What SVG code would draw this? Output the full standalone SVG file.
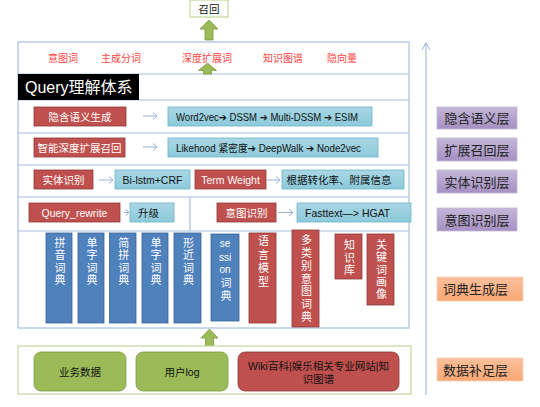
<svg xmlns="http://www.w3.org/2000/svg" width="540" height="407" viewBox="0 0 540 407">
<defs>
<linearGradient id="gPurple" x1="0" y1="0" x2="0" y2="1"><stop offset="0" stop-color="#c4b6d8"/><stop offset="1" stop-color="#a590c2"/></linearGradient>
<linearGradient id="gOrange" x1="0" y1="0" x2="0" y2="1"><stop offset="0" stop-color="#fcc19c"/><stop offset="1" stop-color="#f9a774"/></linearGradient>
<linearGradient id="gCyan" x1="0" y1="0" x2="0" y2="1"><stop offset="0" stop-color="#a9d7e4"/><stop offset="1" stop-color="#8ccadb"/></linearGradient>
<marker id="openArrow" markerWidth="10" markerHeight="10" refX="8" refY="5" orient="auto" markerUnits="userSpaceOnUse"><path d="M1,1 L8,5 L1,9" fill="none" stroke="#95b3d7" stroke-width="1"/></marker>
</defs>
<style>
text{font-family:"Liberation Sans","Noto Sans CJK SC","DejaVu Sans",sans-serif;}
.frame{fill:#fff;stroke:#a7bfe0;stroke-width:1.2;}
.div{stroke:#a7bfe0;stroke-width:1.2;}
.red{fill:#c0504d;stroke:#8c3a38;stroke-width:0.8;}
.cyan{fill:url(#gCyan);stroke:#6fb3c8;stroke-width:0.8;}
.bar{fill:#4f81bd;stroke:#3a6494;stroke-width:0.8;}
.green{fill:#9bbb59;stroke:#7a9a3e;stroke-width:0.8;}
.purple{fill:url(#gPurple);stroke:#c5b8d8;stroke-width:0.8;}
.orange{fill:url(#gOrange);stroke:#fbd0b4;stroke-width:0.8;}
.wt{fill:#fff;font-size:10.5px;}
.bt{fill:#111;font-size:10.5px;}
.top{fill:#ff4444;font-size:10px;font-family:"Liberation Serif","Noto Sans CJK SC",serif;}
.side{fill:#222;font-size:13px;}
.vt{fill:#fff;font-size:11px;writing-mode:vertical-rl;}
.vl{fill:#fff;font-size:10px;}
.conn{stroke:#95b3d7;stroke-width:1;fill:none;}
</style>

<g id="recall">
<rect x="190" y="0" width="38" height="17" fill="#fff" stroke="#b5cf84" stroke-width="1"/>
<text x="209" y="12.5" text-anchor="middle" class="bt" font-size="11">召回</text>
</g>

<g id="main-frame">
<rect x="18" y="42" width="391" height="286" class="frame"/>
<line x1="18" y1="74" x2="409" y2="74" class="div"/>
<line x1="18" y1="100" x2="409" y2="100" class="div"/>
<line x1="18" y1="133" x2="409" y2="133" class="div"/>
<line x1="18" y1="165" x2="409" y2="165" class="div"/>
<line x1="18" y1="197" x2="409" y2="197" class="div"/>
<line x1="18" y1="231" x2="409" y2="231" class="div"/>
<line x1="190" y1="197" x2="190" y2="231" class="div"/>
</g>

<g id="top-words">
<text x="63" y="61.5" text-anchor="middle" class="top">意图词</text>
<text x="121" y="61.5" text-anchor="middle" class="top">主成分词</text>
<text x="207" y="61.5" text-anchor="middle" class="top">深度扩展词</text>
<text x="283" y="61.5" text-anchor="middle" class="top">知识图谱</text>
<text x="342" y="61.5" text-anchor="middle" class="top">隐向量</text>
</g>

<g id="query-title">
<rect x="18" y="74" width="121" height="26" fill="#000"/>
<text x="25" y="93" fill="#fff" font-size="16">Query理解体系</text>
</g>

<g id="connectors">
<path d="M209,20 L218,29 L213,29 L213,40 L205,40 L205,29 L200,29 Z" class="green"/>
<path d="M207.5,63 L216.5,70.5 L211.5,70.5 L211.5,74 L203.5,74 L203.5,70.5 L198.5,70.5 Z" class="green"/>
<path d="M209.5,329 L218,338 L213.5,338 L213.5,346 L205.5,346 L205.5,338 L201,338 Z" class="green"/>
<path d="M143,116 L157,116 M153,112.5 L157,116 L153,119.5" class="conn"/>
<path d="M143,147 L157,147 M153,143.5 L157,147 L153,150.5" class="conn"/>
<path d="M99,180 L113,180 M109,176.5 L113,180 L109,183.5" class="conn"/>
<path d="M267,180 L280,180 M276,176.5 L280,180 L276,183.5" class="conn"/>
<path d="M124,212.5 L129,212.5 M125.5,209.5 L129,212.5 L125.5,215.5" class="conn"/>
<path d="M278,212.5 L293,212.5 M289,209 L293,212.5 L289,216" class="conn"/>
<line x1="426" y1="395" x2="426" y2="43" class="conn" marker-end="url(#openArrow)"/>
</g>

<g id="row-latent">
<rect x="34" y="107" width="92" height="19" class="red"/>
<text x="80" y="120.5" text-anchor="middle" class="wt">隐含语义生成</text>
<rect x="168" y="107" width="204" height="19" class="cyan"/>
<text x="176" y="120.5" class="bt" font-size="10" textLength="182" lengthAdjust="spacingAndGlyphs">Word2vec➔ DSSM ➔ Multi-DSSM ➔ ESIM</text>
</g>

<g id="row-expand">
<rect x="34" y="138" width="91" height="19" class="red"/>
<text x="79.5" y="151.5" text-anchor="middle" class="wt">智能深度扩展召回</text>
<rect x="168" y="138" width="210" height="19" class="cyan"/>
<text x="176" y="151.5" class="bt" font-size="10" textLength="185" lengthAdjust="spacingAndGlyphs">Likehood 紧密度➔ DeepWalk ➔ Node2vec</text>
</g>

<g id="row-entity">
<rect x="34" y="170" width="59" height="19" class="red"/>
<text x="63.5" y="183.5" text-anchor="middle" class="wt">实体识别</text>
<rect x="115" y="170" width="75" height="19" class="cyan"/>
<text x="152.5" y="183.5" text-anchor="middle" class="bt" font-size="10">Bi-lstm+CRF</text>
<rect x="195" y="170" width="71" height="19" class="red"/>
<text x="230.5" y="183.5" text-anchor="middle" class="wt">Term Weight</text>
<rect x="282" y="170" width="122" height="19" class="cyan"/>
<text x="339" y="183.5" text-anchor="middle" class="bt">根据转化率、附属信息</text>
</g>

<g id="row-intent">
<rect x="29" y="203" width="91" height="19" class="red"/>
<text x="74.5" y="216.5" text-anchor="middle" class="wt" font-size="10">Query_rewrite</text>
<rect x="130" y="203" width="44" height="19" class="cyan"/>
<text x="138" y="216.5" class="bt">升级</text>
<rect x="217" y="203" width="59" height="19" class="red"/>
<text x="246.5" y="216.5" text-anchor="middle" class="wt">意图识别</text>
<rect x="297" y="203" width="114" height="19" class="cyan"/>
<text x="305" y="216.5" class="bt" font-size="10">Fasttext—&gt; HGAT</text>
</g>

<g id="dict-bars">
<rect x="46" y="233" width="26" height="90" class="bar"/>
<text x="59" y="237" class="vt" letter-spacing="1.5">拼音词典</text>
<rect x="78" y="233" width="26" height="90" class="bar"/>
<text x="91" y="237" class="vt" letter-spacing="1.5">单字词典</text>
<rect x="109.5" y="233" width="26.5" height="90" class="bar"/>
<text x="122.8" y="237" class="vt" letter-spacing="1.5">简拼词典</text>
<rect x="142" y="233" width="26" height="90" class="bar"/>
<text x="155" y="237" class="vt" letter-spacing="1.5">单字词典</text>
<rect x="174" y="233" width="27" height="90" class="bar"/>
<text x="187.5" y="237" class="vt" letter-spacing="1.5">形近词典</text>
<rect x="211" y="234" width="28" height="87" class="bar"/>
<text class="vl" text-anchor="middle"><tspan x="225" y="246.5">se</tspan><tspan x="225" y="260.5">ssi</tspan><tspan x="225" y="272.5">on</tspan></text>
<text x="225" y="277" class="vt" letter-spacing="2">词典</text>
</g>

<g id="model-bars">
<rect x="249" y="233" width="27" height="90" class="red"/>
<text x="262.5" y="235.5" class="vt" letter-spacing="2.5">语言模型</text>
<rect x="292" y="230" width="27" height="97" class="red"/>
<text x="305.5" y="234.5" class="vt" letter-spacing="1.8">多类别意图词典</text>
<rect x="335" y="234" width="27" height="45" class="red"/>
<text x="348.5" y="239.5" class="vt" letter-spacing="1.5">知识库</text>
<rect x="367" y="234" width="27" height="71" class="red"/>
<text x="380.5" y="239.5" class="vt" letter-spacing="1.3">关键词画像</text>
</g>

<g id="data-layer">
<rect x="18" y="346" width="393" height="48" fill="#fff" stroke="#c3d69b" stroke-width="1.2"/>
<rect x="34" y="352" width="92" height="39" rx="7" class="green"/>
<text x="80" y="375.5" text-anchor="middle" class="bt">业务数据</text>
<rect x="136" y="352" width="92" height="39" rx="7" class="green"/>
<text x="182" y="375.5" text-anchor="middle" class="bt">用户log</text>
<rect x="238" y="352" width="161" height="39" rx="7" class="red"/>
<text text-anchor="middle" class="bt"><tspan x="318.5" y="370">Wiki百科|娱乐相关专业网站|知</tspan><tspan x="318.5" y="383">识图谱</tspan></text>
</g>

<g id="layer-labels">
<rect x="437" y="107" width="80" height="22" class="purple"/>
<text x="477" y="123" text-anchor="middle" class="side">隐含语义层</text>
<rect x="437" y="138" width="80" height="23" class="purple"/>
<text x="477" y="154.5" text-anchor="middle" class="side">扩展召回层</text>
<rect x="437" y="170" width="80" height="23" class="purple"/>
<text x="477" y="186.5" text-anchor="middle" class="side">实体识别层</text>
<rect x="437" y="208" width="80" height="23" class="purple"/>
<text x="477" y="224.5" text-anchor="middle" class="side">意图识别层</text>
<rect x="437" y="277" width="86" height="24" class="orange"/>
<text x="443" y="294" class="side">词典生成层</text>
<rect x="437" y="358" width="86" height="23" class="orange"/>
<text x="443" y="374.5" class="side">数据补足层</text>
</g>
</svg>
